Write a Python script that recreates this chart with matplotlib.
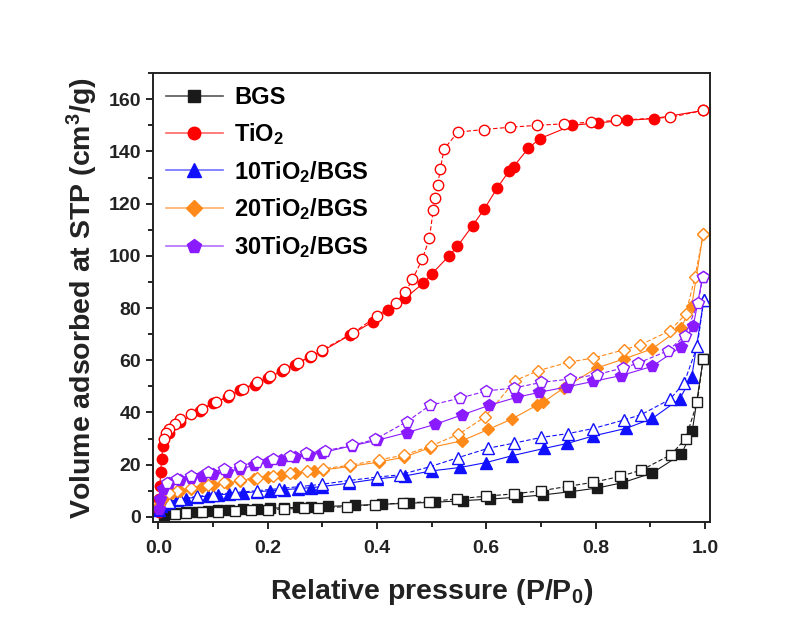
import matplotlib.pyplot as plt
from matplotlib.lines import Line2D
from matplotlib.ticker import MultipleLocator

plt.rcParams['font.family'] = ['Liberation Sans', 'DejaVu Sans']
plt.rcParams['font.weight'] = 'bold'
plt.rcParams['axes.labelweight'] = 'bold'
plt.rcParams['mathtext.fontset'] = 'custom'
plt.rcParams['mathtext.rm'] = 'Liberation Sans:bold'
plt.rcParams['mathtext.it'] = 'Liberation Sans:bold'
plt.rcParams['mathtext.bf'] = 'Liberation Sans:bold'
plt.rcParams['mathtext.default'] = 'rm'

# BGS
bgs_ads_x = [0.01, 0.03, 0.05, 0.07, 0.09, 0.11, 0.13, 0.155, 0.18, 0.205, 0.23, 0.255, 0.28,
             0.311, 0.36, 0.409, 0.458, 0.506, 0.558, 0.607, 0.656, 0.704, 0.753, 0.802, 0.848,
             0.904, 0.957, 0.977, 0.997]
bgs_ads_y = [0.8, 1.3, 1.7, 2.0, 2.3, 2.5, 2.7, 2.9, 3.1, 3.3, 3.5, 3.6, 3.8,
             4.0, 4.4, 4.8, 5.2, 5.6, 6.2, 6.8, 7.5, 8.4, 9.6, 11.0, 13.0,
             16.8, 24.0, 32.9, 60.5]
bgs_des_x = [0.997, 0.986, 0.965, 0.938, 0.884, 0.845, 0.795, 0.75, 0.701, 0.65, 0.6, 0.546,
             0.496, 0.448, 0.397, 0.345, 0.293, 0.266, 0.23, 0.2, 0.17, 0.14, 0.11, 0.08, 0.05, 0.03]
bgs_des_y = [60.5, 43.9, 30.0, 23.8, 17.9, 15.5, 13.2, 11.7, 10.0, 8.8, 7.9, 6.9,
             5.8, 5.3, 4.7, 3.9, 3.4, 3.2, 3.0, 2.8, 2.6, 2.3, 2.0, 1.7, 1.4, 1.1]

# TiO2
tio2_ads_x = [0.001, 0.002, 0.003, 0.004, 0.006, 0.008, 0.02, 0.04, 0.077, 0.1, 0.128, 0.15,
              0.177, 0.2, 0.226, 0.25, 0.278, 0.3, 0.351, 0.393, 0.42, 0.452, 0.485, 0.5,
              0.531, 0.547, 0.575, 0.596, 0.62, 0.642, 0.65, 0.677, 0.698, 0.757, 0.805,
              0.857, 0.907, 0.997]
tio2_ads_y = [2.0, 7.0, 12.0, 17.0, 22.0, 27.0, 32.0, 36.5, 40.5, 43.5, 46.0, 48.5,
              50.7, 53.3, 55.7, 58.3, 61.4, 63.5, 69.7, 74.8, 79.2, 83.8, 89.6, 93.0,
              99.8, 103.6, 111.6, 117.8, 126.0, 132.6, 134.2, 141.2, 144.9, 150.0, 151.0,
              151.9, 152.6, 155.7]
tio2_des_x = [0.997, 0.937, 0.838, 0.792, 0.742, 0.693, 0.644, 0.595, 0.548, 0.523, 0.516,
              0.511, 0.506, 0.503, 0.496, 0.483, 0.465, 0.452, 0.435, 0.4, 0.357, 0.3, 0.28,
              0.255, 0.23, 0.205, 0.18, 0.155, 0.13, 0.105, 0.08, 0.06, 0.04, 0.03, 0.02,
              0.014, 0.01]
tio2_des_y = [155.7, 153.1, 151.9, 151.2, 150.6, 150.0, 149.3, 148.4, 147.4, 141.0, 133.4,
              127.0, 122.0, 117.6, 106.8, 98.7, 91.0, 86.2, 82.0, 77.0, 70.5, 64.0, 61.8,
              58.8, 56.5, 54.0, 51.5, 49.0, 46.5, 44.0, 41.5, 39.5, 37.5, 35.5, 33.5,
              32.0, 30.0]

# 10TiO2/BGS
t10_ads_x = [0.002, 0.005, 0.01, 0.02, 0.035, 0.05, 0.07, 0.09, 0.11, 0.13, 0.155, 0.18, 0.205,
             0.23, 0.255, 0.28, 0.3, 0.348, 0.4, 0.452, 0.5, 0.552, 0.6, 0.647, 0.706, 0.748,
             0.796, 0.856, 0.904, 0.954, 0.976, 0.998]
t10_ads_y = [2.5, 4.0, 5.0, 5.8, 6.5, 7.0, 7.5, 8.0, 8.4, 8.8, 9.2, 9.6, 10.0,
             10.4, 10.8, 11.2, 11.6, 12.9, 14.5, 15.7, 17.6, 18.9, 20.8, 23.4, 26.2, 28.1,
             31.0, 33.9, 37.7, 45.2, 53.5, 83.0]
t10_des_x = [0.998, 0.986, 0.962, 0.936, 0.884, 0.852, 0.795, 0.75, 0.7, 0.65, 0.604, 0.549,
             0.497, 0.442, 0.4, 0.348, 0.3, 0.26, 0.22, 0.18, 0.14, 0.1, 0.07, 0.04, 0.02]
t10_des_y = [83.0, 65.3, 51.3, 45.0, 39.2, 37.1, 33.8, 31.9, 30.4, 28.2, 26.3, 22.7,
             19.2, 16.1, 15.2, 13.9, 12.5, 11.6, 10.8, 10.0, 9.3, 8.5, 7.8, 6.8, 5.8]

# 20TiO2/BGS
t20_ads_x = [0.002, 0.006, 0.012, 0.025, 0.04, 0.06, 0.08, 0.1, 0.125, 0.15, 0.175, 0.2, 0.225,
             0.25, 0.284, 0.302, 0.351, 0.403, 0.449, 0.497, 0.555, 0.604, 0.648, 0.692, 0.704,
             0.742, 0.802, 0.852, 0.903, 0.956, 0.976, 0.997]
t20_ads_y = [4.5, 6.5, 8.0, 9.2, 10.0, 10.8, 11.5, 12.2, 13.0, 13.8, 14.5, 15.2, 15.9,
             16.6, 17.6, 18.0, 19.3, 21.0, 22.8, 26.5, 29.1, 33.5, 37.6, 42.7, 43.9,
             49.4, 57.0, 60.5, 64.3, 72.3, 80.8, 108.5]
t20_des_x = [0.997, 0.982, 0.965, 0.936, 0.882, 0.852, 0.795, 0.752, 0.695, 0.653, 0.598, 0.549,
             0.499, 0.449, 0.403, 0.351, 0.302, 0.272, 0.24, 0.21, 0.18, 0.15, 0.12, 0.09,
             0.06, 0.035, 0.02]
t20_des_y = [108.5, 91.9, 77.7, 71.3, 65.9, 64.0, 60.8, 59.3, 56.0, 52.2, 38.3, 31.6,
             27.2, 23.6, 21.8, 19.8, 18.4, 17.5, 16.6, 15.8, 15.0, 14.2, 13.3, 12.3,
             11.2, 10.0, 9.0]

# 30TiO2/BGS
t30_ads_x = [0.001, 0.003, 0.008, 0.02, 0.04, 0.06, 0.08, 0.1, 0.125, 0.15, 0.175, 0.2, 0.225,
             0.25, 0.275, 0.3, 0.354, 0.4, 0.455, 0.506, 0.555, 0.605, 0.656, 0.697, 0.748,
             0.796, 0.846, 0.903, 0.957, 0.979, 0.996]
t30_ads_y = [3.0, 6.9, 10.5, 12.8, 14.0, 14.9, 15.6, 16.3, 17.3, 18.4, 19.7, 20.9, 21.9,
             22.8, 23.6, 24.6, 27.2, 29.3, 32.3, 35.4, 39.0, 42.7, 45.8, 47.7, 49.8,
             51.9, 54.1, 57.6, 65.2, 73.3, 92.0]
t30_des_x = [0.996, 0.988, 0.963, 0.933, 0.878, 0.85, 0.802, 0.753, 0.701, 0.651, 0.6, 0.552,
             0.497, 0.455, 0.397, 0.355, 0.305, 0.27, 0.24, 0.21, 0.18, 0.15, 0.12, 0.09,
             0.06, 0.035, 0.015]
t30_des_y = [92.0, 82.0, 69.3, 63.7, 58.9, 57.0, 54.5, 52.8, 51.5, 49.4, 48.2, 45.5,
             42.7, 36.5, 29.7, 27.4, 25.3, 24.3, 23.2, 22.2, 21.0, 19.5, 18.2, 17.0,
             15.7, 14.4, 12.8]

series = [
    ("BGS", bgs_ads_x, bgs_ads_y, bgs_des_x, bgs_des_y, '#1a1a1a', '#555555', 's', 6.5),
    ("TiO$_2$", tio2_ads_x, tio2_ads_y, tio2_des_x, tio2_des_y, '#ff0000', '#ff6666', 'o', 7.5),
    ("10TiO$_2$/BGS", t10_ads_x, t10_ads_y, t10_des_x, t10_des_y, '#1010ff', '#7070ff', '^', 8),
    ("20TiO$_2$/BGS", t20_ads_x, t20_ads_y, t20_des_x, t20_des_y, '#ff8a1a', '#ffb066', 'D', 6.5),
    ("30TiO$_2$/BGS", t30_ads_x, t30_ads_y, t30_des_x, t30_des_y, '#8a1aff', '#b070ff', 'p', 8.5),
]

fig = plt.figure(figsize=(8.09, 6.2), dpi=100)
ax = fig.add_axes([0.189, 0.158, 0.689, 0.724])

handles = []
for name, ax_x, ax_y, dx, dy, col, light, mk, ms in series:
    ax.plot(ax_x, ax_y, color=col, lw=0.8, marker=mk, ms=ms, mfc=col, mec=col, mew=1)
    ax.plot(dx, dy, color=col, lw=0.8, ls=(0, (4, 2)), marker=mk, ms=ms,
            mfc='white', mec=col, mew=1)
    handles.append(Line2D([], [], color=light, lw=1.2, marker=mk, ms=ms + 1.5,
                          mfc=col, mec=col, label=name))

ax.set_xlim(-0.01, 1.01)
ax.set_ylim(-2, 170)
ax.xaxis.set_major_locator(MultipleLocator(0.2))
ax.xaxis.set_minor_locator(MultipleLocator(0.1))
ax.yaxis.set_major_locator(MultipleLocator(20))
ax.yaxis.set_minor_locator(MultipleLocator(10))
ax.tick_params(which='major', direction='out', length=5, width=1.2, labelsize=14,
               labelcolor='#222222', top=False, right=False)
ax.tick_params(which='minor', direction='out', length=3.5, width=1.2, top=False, right=False)
ax.tick_params(axis='x', which='major', pad=8)
ax.xaxis.set_major_formatter(plt.FuncFormatter(lambda v, p: f"{v:.1f}"))
for s in ax.spines.values():
    s.set_linewidth(1.4)
    s.set_color('#222222')

ax.set_xlabel("Relative pressure (P/P$_0$)", fontsize=20.5, color='#222222', labelpad=14)
ax.set_ylabel("Volume adsorbed at STP (cm$^3$/g)", fontsize=20.5, color='#222222', labelpad=6)

ax.legend(handles=handles, loc='upper left', bbox_to_anchor=(0.0, 1.0), frameon=False,
          fontsize=17, handlelength=2.4, handletextpad=0.5, labelspacing=0.5,
          borderaxespad=0.15)

plt.savefig("out.png", dpi=100, facecolor='white')
